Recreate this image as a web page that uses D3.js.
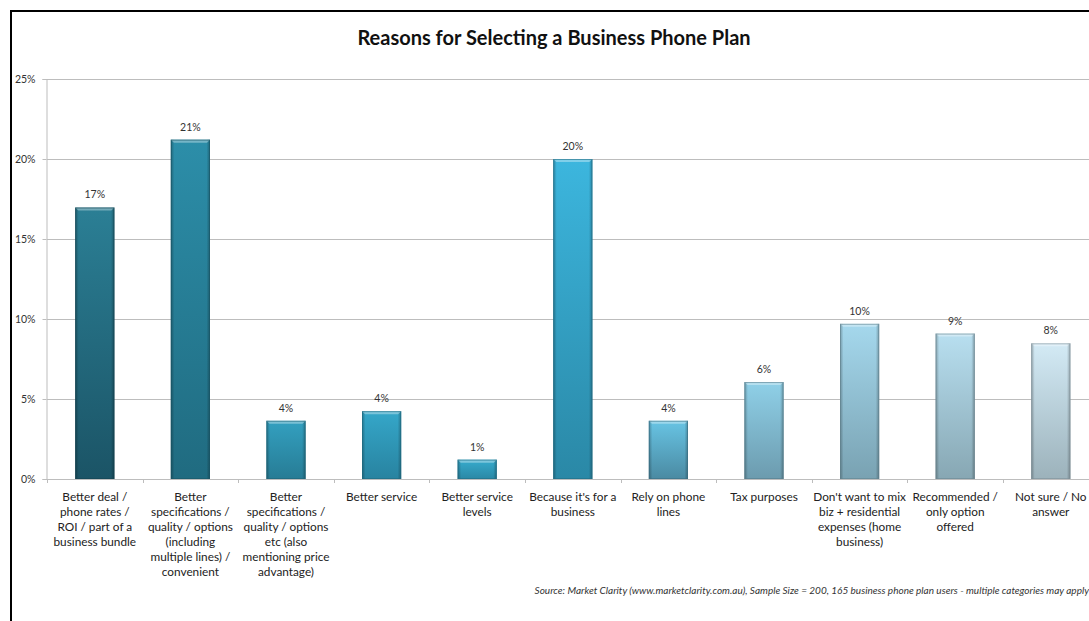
<!DOCTYPE html>
<html>
<head>
<meta charset="utf-8">
<script src="https://cdn.jsdelivr.net/npm/d3@7"></script>
<style>
  html, body { margin: 0; padding: 0; background: #fff; overflow: hidden; }
  svg { display: block; font-family: Lato, "Open Sans", sans-serif; }
</style>
</head>
<body>
<svg id="chart" width="1089" height="621"></svg>
<script>
// Share of business phone plan users (n = 165) citing each reason, in percent
const categories = [
  "Better deal / phone rates / ROI / part of a business bundle",
  "Better specifications / quality / options (including multiple lines) / convenient",
  "Better specifications / quality / options etc (also mentioning price advantage)",
  "Better service",
  "Better service levels",
  "Because it's for a business",
  "Rely on phone lines",
  "Tax purposes",
  "Don't want to mix biz + residential expenses (home business)",
  "Recommended / only option offered",
  "Not sure /  No answer"
];
// Wrapped axis label lines for each category
const labelLines = [
  ["Better deal /", "phone rates /", "ROI / part of a", "business bundle"],
  ["Better", "specifications /", "quality / options", "(including", "multiple lines) /", "convenient"],
  ["Better", "specifications /", "quality / options", "etc (also", "mentioning price", "advantage)"],
  ["Better service"],
  ["Better service", "levels"],
  ["Because it's for a", "business"],
  ["Rely on phone", "lines"],
  ["Tax purposes"],
  ["Don't want to mix", "biz + residential", "expenses (home", "business)"],
  ["Recommended /", "only option", "offered"],
  ["Not sure /  No", "answer"]
];
const values = [16.97, 21.21, 3.64, 4.24, 1.21, 20.0, 3.64, 6.06, 9.70, 9.09, 8.48];
const yTicks = [0, 5, 10, 15, 20, 25];
// Per-bar fill: [top colour, bottom colour]
const barColors = [
  ["#2b7f95", "#1b5466"],
  ["#2c8ea9", "#206b80"],
  ["#33a0c0", "#277c95"],
  ["#35a7c9", "#2883a0"],
  ["#37abcd", "#2a88a5"],
  ["#3cb6de", "#2a88a6"],
  ["#68c4e4", "#4a8aa2"],
  ["#8fd0e8", "#6c9bae"],
  ["#a5d8ed", "#79a2b2"],
  ["#b8dff0", "#87a7b3"],
  ["#d3eaf5", "#9cb2bb"]
];
const titleText = "Reasons for Selecting a Business Phone Plan";
const sourceText = "Source: Market Clarity (www.marketclarity.com.au), Sample Size = 200, 165 business phone plan users  - multiple categories may apply";

const svg = d3.select("#chart");
const plot = { left: 47, right: 1098.6, top: 79, bottom: 479 };

const x = d3.scaleBand()
  .domain(categories)
  .range([plot.left, plot.right])
  .paddingInner(0.59)
  .paddingOuter(0.295);
const y = d3.scaleLinear().domain([0, 25]).range([plot.bottom, plot.top]);

// Frame: left and top edges of the chart border
svg.append("line")
  .attr("x1", 11).attr("x2", 11).attr("y1", 10).attr("y2", 621)
  .attr("stroke", "#000").attr("stroke-width", 2);
svg.append("line")
  .attr("x1", 10).attr("x2", 1089).attr("y1", 11).attr("y2", 11)
  .attr("stroke", "#000").attr("stroke-width", 2);

// Title
svg.append("text")
  .attr("x", 554).attr("y", 45)
  .attr("text-anchor", "middle")
  .attr("font-size", 20).attr("font-weight", 700)
  .attr("fill", "#111")
  .text(titleText);

// Gridlines
svg.append("g")
  .selectAll("line")
  .data(yTicks.filter(t => t > 0))
  .join("line")
  .attr("x1", plot.left).attr("x2", 1089)
  .attr("y1", d => Math.round(y(d)) + 0.5).attr("y2", d => Math.round(y(d)) + 0.5)
  .attr("stroke", "#bdbdbd").attr("stroke-width", 1);

// Y axis
const yAxis = svg.append("g")
  .attr("transform", `translate(${plot.left - 0.5},0)`)
  .call(d3.axisLeft(y).tickValues(yTicks).tickFormat(d => d + "%").tickSize(4).tickPadding(7));
yAxis.select(".domain").attr("stroke", "#bdbdbd");
yAxis.selectAll(".tick line").attr("stroke", "#bdbdbd");
yAxis.selectAll(".tick text")
  .attr("font-family", "Lato, 'Open Sans', sans-serif")
  .attr("font-size", 10.5).attr("fill", "#333");

// X axis with ticks at category boundaries
const step = x.step();
const xAxisG = svg.append("g");
xAxisG.append("line")
  .attr("x1", plot.left).attr("x2", 1089)
  .attr("y1", plot.bottom + 0.5).attr("y2", plot.bottom + 0.5)
  .attr("stroke", "#bdbdbd");
xAxisG.selectAll("line.tk")
  .data(d3.range(categories.length + 1))
  .join("line")
  .attr("class", "tk")
  .attr("x1", i => Math.round(plot.left + i * step) + 0.5)
  .attr("x2", i => Math.round(plot.left + i * step) + 0.5)
  .attr("y1", plot.bottom).attr("y2", plot.bottom + 4)
  .attr("stroke", "#bdbdbd");

// Gradients
const defs = svg.append("defs");
barColors.forEach((c, i) => {
  const g = defs.append("linearGradient")
    .attr("id", "bar" + i).attr("x1", 0).attr("y1", 0).attr("x2", 0).attr("y2", 1);
  g.append("stop").attr("offset", "0%").attr("stop-color", c[0]);
  g.append("stop").attr("offset", "100%").attr("stop-color", c[1]);
});
const side = defs.append("linearGradient")
  .attr("id", "bevel").attr("x1", 0).attr("y1", 0).attr("x2", 1).attr("y2", 0);
side.append("stop").attr("offset", "0%").attr("stop-color", "#000").attr("stop-opacity", 0.28);
side.append("stop").attr("offset", "9%").attr("stop-color", "#000").attr("stop-opacity", 0);
side.append("stop").attr("offset", "91%").attr("stop-color", "#000").attr("stop-opacity", 0);
side.append("stop").attr("offset", "100%").attr("stop-color", "#000").attr("stop-opacity", 0.28);

// Bars
const bars = svg.append("g")
  .selectAll("g")
  .data(values)
  .join("g");
bars.append("rect")
  .attr("x", (d, i) => x(categories[i]))
  .attr("y", d => y(d))
  .attr("width", x.bandwidth())
  .attr("height", d => y(0) - y(d))
  .attr("fill", (d, i) => `url(#bar${i})`);
bars.append("rect")
  .attr("x", (d, i) => x(categories[i]))
  .attr("y", d => y(d))
  .attr("width", x.bandwidth())
  .attr("height", d => y(0) - y(d))
  .attr("fill", "url(#bevel)");
// top highlight bevel
bars.append("path")
  .attr("d", (d, i) => {
    const x0 = x(categories[i]), w = x.bandwidth(), t = y(d);
    return `M${x0},${t} H${x0 + w} L${x0 + w - 3},${t + 3} H${x0 + 3} Z`;
  })
  .attr("fill", "#fff").attr("fill-opacity", 0.35);
bars.append("rect")
  .attr("x", (d, i) => x(categories[i]) + 0.5)
  .attr("y", d => y(d) + 0.5)
  .attr("width", x.bandwidth() - 1)
  .attr("height", d => y(0) - y(d) - 1)
  .attr("fill", "none")
  .attr("stroke", (d, i) => d3.color(barColors[i][1]).darker(0.6))
  .attr("stroke-opacity", 0.6);

// Value labels
svg.append("g")
  .selectAll("text")
  .data(values)
  .join("text")
  .attr("x", (d, i) => x(categories[i]) + x.bandwidth() / 2)
  .attr("y", d => y(d) - 9)
  .attr("text-anchor", "middle")
  .attr("font-size", 10.5).attr("fill", "#333")
  .text(d => Math.round(d) + "%");

// Category labels
const catG = svg.append("g")
  .selectAll("text")
  .data(categories)
  .join("text")
  .attr("x", d => x(d) + x.bandwidth() / 2)
  .attr("y", 501)
  .attr("text-anchor", "middle")
  .attr("font-size", 11.8).attr("fill", "#222");
catG.each(function (d, i) {
  const t = d3.select(this);
  labelLines[i].forEach((line, j) => {
    t.append("tspan")
      .attr("x", x(d) + x.bandwidth() / 2)
      .attr("dy", j === 0 ? 0 : 15)
      .text(line);
  });
});

// Source note
svg.append("text")
  .attr("x", 1089).attr("y", 594)
  .attr("text-anchor", "end")
  .attr("font-size", 10).attr("font-style", "italic").attr("fill", "#333")
  .text(sourceText);
</script>
</body>
</html>
